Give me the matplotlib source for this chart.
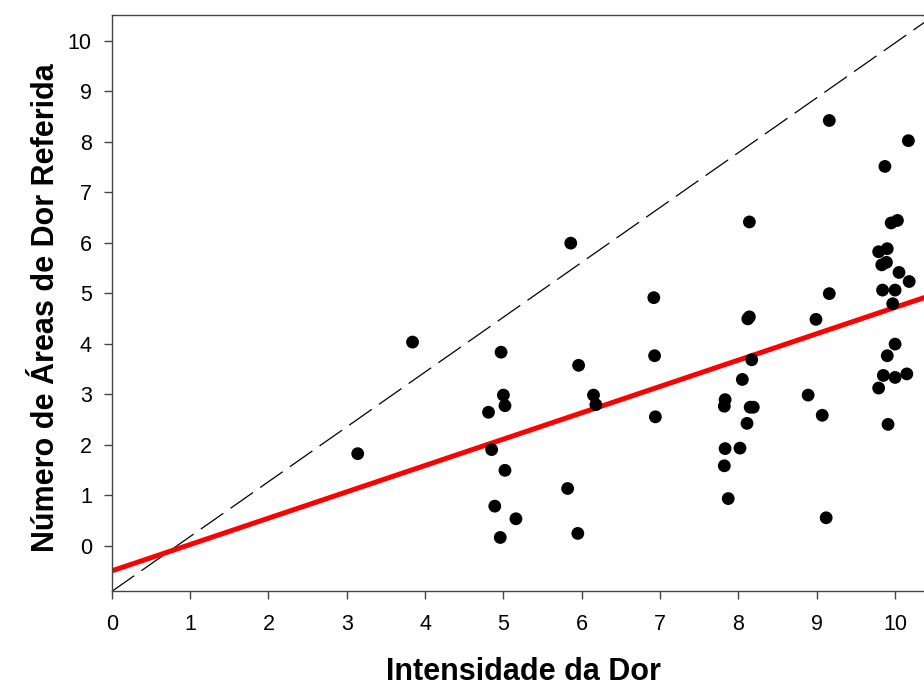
import numpy as np
import matplotlib
matplotlib.use("Agg")
import matplotlib.pyplot as plt

# Data (Intensidade da Dor vs Número de Áreas de Dor Referida)
intensidade = [
    3.14, 3.84,
    4.81, 4.85, 4.89, 4.96, 4.97, 5.00, 5.02, 5.02, 5.16,
    5.82, 5.86, 5.96, 5.95, 6.15, 6.18,
    6.92, 6.93, 6.94,
    7.83, 7.82, 7.83, 7.82, 7.87, 8.02, 8.05, 8.11, 8.12, 8.14, 8.14, 8.15, 8.19, 8.17,
    8.89, 8.99, 9.07, 9.12, 9.16, 9.16,
    10.17, 9.87, 9.95, 10.03, 9.79, 9.90, 9.83, 9.89, 10.05, 10.18,
    9.84, 10.00, 9.97, 10.00, 9.90, 9.85, 10.00, 10.15, 9.79, 9.91,
]
areas = [
    1.82, 4.03,
    2.64, 1.90, 0.78, 0.16, 3.83, 2.98, 2.77, 1.49, 0.53,
    1.13, 5.99, 3.57, 0.24, 2.98, 2.79,
    4.91, 3.76, 2.55,
    2.89, 2.76, 1.92, 1.58, 0.93, 1.93, 3.29, 2.42, 4.49, 4.53, 6.41, 2.74, 2.74, 3.68,
    2.98, 4.48, 2.58, 0.55, 8.42, 4.99,
    8.02, 7.51, 6.39, 6.44, 5.82, 5.88, 5.56, 5.61, 5.41, 5.23,
    5.06, 5.06, 4.79, 3.99, 3.76, 3.37, 3.33, 3.40, 3.12, 2.40,
]
x_ticks = [0, 1, 2, 3, 4, 5, 6, 7, 8, 9, 10]
y_ticks = [0, 1, 2, 3, 4, 5, 6, 7, 8, 9, 10]
x_label = "Intensidade da Dor"
y_label = "Número de Áreas de Dor Referida"

plt.rcParams['font.family'] = ['Liberation Sans', 'DejaVu Sans']

fig = plt.figure(figsize=(9.24, 6.88), dpi=100)
ax = fig.add_axes([0.1209, 0.1403, 0.8902, 0.8372])

xs = np.array(intensidade)
ys = np.array(areas)

ax.set_xlim(0, 10.5)
ax.set_ylim(-0.91, 10.5)

# diagonal dashed reference line, corner to corner
ax.plot([0, 1], [0, 1], transform=ax.transAxes, color='black', lw=0.9,
        dashes=(22, 7), zorder=1)

# regression line
slope, intercept = np.polyfit(xs, ys, 1)
xl = np.array([0, 10.5])
ax.plot(xl, intercept + slope * xl, color='#ff0000', lw=3.6, zorder=2,
        solid_capstyle='butt')

ax.scatter(xs, ys, s=85, color='black', edgecolors='none', zorder=3)

ax.set_xticks(x_ticks)
ax.set_yticks(y_ticks)
ax.tick_params(direction='out', length=5.8, width=1, color='#444444',
               labelsize=15.5)
ax.tick_params(axis='x', pad=10.5)
ax.tick_params(axis='y', pad=8.5)

for s in ['left', 'bottom', 'top']:
    ax.spines[s].set_color('#444444')
    ax.spines[s].set_linewidth(1)
ax.spines['right'].set_visible(False)

ax.set_xlabel(x_label, fontsize=22, fontweight='bold')
ax.set_ylabel(y_label, fontsize=22, fontweight='bold')
ax.xaxis.set_label_coords(0.5, -0.113)
ax.yaxis.set_label_coords(-0.062, 0.493)

fig.savefig("out.png", dpi=100)
